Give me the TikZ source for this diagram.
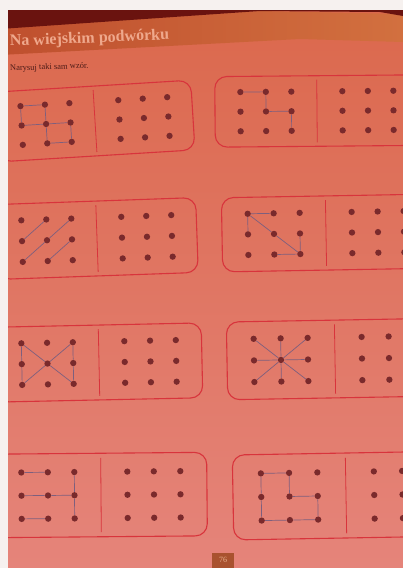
\documentclass[tikz,border=0pt]{standalone}
\usepackage{fontspec}
\setmainfont{Liberation Serif}
\definecolor{pagetop}{HTML}{DB684C}
\definecolor{pagebot}{HTML}{E5847A}
\definecolor{cardred}{HTML}{D8343C}
\definecolor{dotc}{HTML}{7A2A2C}
\definecolor{linec}{HTML}{7D5F7E}
\definecolor{bandl}{HTML}{BF4F2E}
\definecolor{bandr}{HTML}{D2703F}
\definecolor{darkc}{HTML}{6A130F}
\definecolor{titlec}{HTML}{EFA88C}
\definecolor{subc}{HTML}{4E1C18}
\definecolor{numc}{HTML}{A9522F}
\definecolor{numtxt}{HTML}{E8B08E}
\definecolor{edgec}{HTML}{F6F1EF}
\tikzset{
  cardframe/.style={draw=cardred, line width=1.1pt, rounded corners=12pt},
  divline/.style={draw=cardred, line width=0.8pt},
  dotnode/.style={circle, fill=dotc, inner sep=0pt, minimum size=6.3pt},
  patline/.style={draw=linec, line width=0.7pt},
}
\newcommand{\dotcard}[6]{%
  \begin{scope}[shift={(#2,#3)}, rotate=#6, xscale=#4, yscale=#5]
    \draw[cardframe] (-100,-36) rectangle (100,36);
    \draw[divline] (0,-32) -- (0,32);
    \foreach \i/\xx in {0/-75,1/-50,2/-25}
      \foreach \j/\yy in {0/-20,1/0,2/20}
        \node[dotnode] (#1l\i\j) at (\xx,\yy) {};
    \foreach \i/\xx in {0/25,1/50,2/75}
      \foreach \j/\yy in {0/-20,1/0,2/20}
        \node[dotnode] (#1r\i\j) at (\xx,\yy) {};
  \end{scope}}
\begin{document}
\begin{tikzpicture}[x=1pt,y=-1pt]
\useasboundingbox (0,0) rectangle (403,568);
\clip (0,0) rectangle (403,568);
% page
\shade[top color=pagetop, bottom color=pagebot] (0,0) rectangle (403,568);
% header
\shade[left color=bandl, right color=bandr] (0,28) -- (260,11) -- (403,14) -- (403,42) -- (300,39) -- (0,55) -- cycle;
\fill[darkc] (0,0) -- (403,0) -- (403,16) -- (380,12) -- (260,11) -- (0,29) -- cycle;
\node[anchor=base west, rotate=2.3, inner sep=0pt, text=titlec,
      font=\bfseries\fontsize{16}{16}\selectfont] (title) at (10,46) {Na wiejskim podwórku};
\node[anchor=base west, rotate=2, inner sep=0pt, text=subc,
      font=\fontsize{8.5}{8.5}\selectfont] (sub) at (10,71) {Narysuj taki sam wzór.};
% cards
\dotcard{A}{95}{121}{0.98}{0.97}{3.5}
\dotcard{B}{317}{111}{1.02}{0.98}{0.5}
\dotcard{C}{97}{238.5}{1.0}{1.04}{2}
\dotcard{D}{326}{233}{1.04}{1.03}{1}
\dotcard{E}{99}{362.5}{1.03}{1.04}{1.2}
\dotcard{F}{335}{359}{1.08}{1.08}{1}
\dotcard{G}{101}{495}{1.06}{1.16}{0.5}
\dotcard{H}{346}{495.5}{1.13}{1.18}{1}
% patterns
\draw[patline] (Al00) -- (Al10);
\draw[patline] (Al00) -- (Al01);
\draw[patline] (Al01) -- (Al11) -- (Al21);
\draw[patline] (Al10) -- (Al11) -- (Al12);
\draw[patline] (Al21) -- (Al22);
\draw[patline] (Al12) -- (Al22);
\draw[patline] (Bl00) -- (Bl10) -- (Bl11) -- (Bl21) -- (Bl22);
\draw[patline] (Cl01) -- (Cl10);
\draw[patline] (Cl02) -- (Cl11) -- (Cl20);
\draw[patline] (Cl12) -- (Cl21);
\draw[patline] (Dl10) -- (Dl00) -- (Dl01);
\draw[patline] (Dl00) -- (Dl11) -- (Dl22);
\draw[patline] (Dl21) -- (Dl22) -- (Dl12);
\draw[patline] (El00) -- (El01) -- (El02);
\draw[patline] (El20) -- (El21) -- (El22);
\draw[patline] (El00) -- (El11) -- (El22);
\draw[patline] (El20) -- (El11) -- (El02);
\foreach \k in {00,10,20,01,21,02,12,22} \draw[patline] (Fl11) -- (Fl\k);
\draw[patline] (Gl00) -- (Gl10);
\draw[patline] (Gl01) -- (Gl11) -- (Gl21);
\draw[patline] (Gl02) -- (Gl12);
\draw[patline] (Gl20) -- (Gl21) -- (Gl22);
\draw[patline] (Hl00) -- (Hl10) -- (Hl11) -- (Hl21) -- (Hl22) -- (Hl12) -- (Hl02) -- (Hl01) -- (Hl00);
% page number
\node[fill=numc, text=numtxt, font=\fontsize{8}{8}\selectfont, minimum width=22pt, minimum height=15pt, inner sep=0pt] (pg) at (223,560) {76};
% white edges outside page
\fill[edgec] (0,0) rectangle (8,568);
\fill[edgec] (0,0) rectangle (403,10);
\end{tikzpicture}
\end{document}
